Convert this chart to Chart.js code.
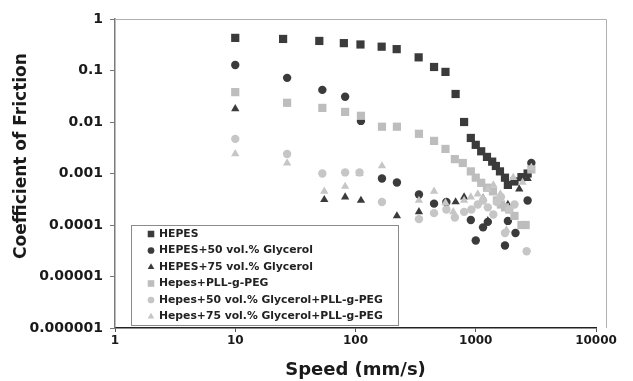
<!DOCTYPE html>
<html>
<head>
<meta charset="utf-8">
<script src="https://cdn.jsdelivr.net/npm/chart.js@4/dist/chart.umd.min.js"></script>
<style>
  body { margin: 0; background: #fff; }
  #wrap { width: 633px; height: 381px; }
</style>
</head>
<body>
<div id="wrap"><canvas id="friction"></canvas></div>
<script>
// tick values and labels
var xTicks = [1, 10, 100, 1000, 10000];
var xLabels = ['1', '10', '100', '1000', '10000'];
var yTicks = [1, 0.1, 0.01, 0.001, 0.0001, 0.00001, 0.000001];
var yLabels = ['1', '0.1', '0.01', '0.001', '0.0001', '0.00001', '0.000001'];

var seriesNames = ['HEPES', 'HEPES+50 vol.% Glycerol', 'HEPES+75 vol.% Glycerol',
  'Hepes+PLL-g-PEG', 'Hepes+50 vol.% Glycerol+PLL-g-PEG', 'Hepes+75 vol.% Glycerol+PLL-g-PEG'];

// speed (mm/s) / coefficient of friction
var hepesX = [10, 25, 50, 80, 110, 165, 220, 335, 450, 560, 680, 800, 910, 1000, 1110, 1240, 1370, 1470, 1590, 1750, 1850, 2100, 2400, 2700];
var hepesY = [0.43, 0.41, 0.375, 0.34, 0.32, 0.29, 0.26, 0.18, 0.117, 0.094, 0.035, 0.010, 0.0049, 0.0036, 0.0027, 0.0021, 0.0017, 0.0014, 0.0011, 0.00083, 0.0006, 0.0007, 0.00085, 0.001];

var gly50X = [10, 27, 53, 82, 111, 166, 221, 337, 450, 570, 910, 1000, 1150, 1260, 1750, 1850, 2140, 2700, 2900];
var gly50Y = [0.128, 0.072, 0.042, 0.031, 0.0105, 0.0008, 0.00067, 0.00039, 0.00026, 0.00028, 0.000125, 0.00005, 0.00009, 0.000115, 0.00004, 0.00012, 0.00007, 0.0003, 0.0016];

var gly75X = [10, 55, 82, 111, 221, 337, 680, 800, 1150, 1260, 1850, 2300, 2700];
var gly75Y = [0.018, 0.00031, 0.00035, 0.0003, 0.00015, 0.00018, 0.00028, 0.00035, 0.00033, 0.00012, 0.00025, 0.0005, 0.0008];

var pllX = [10, 27, 53, 82, 111, 166, 221, 337, 450, 560, 670, 780, 910, 1000, 1110, 1240, 1390, 1500, 1620, 1750, 1900, 2100, 2400, 2600, 2900];
var pllY = [0.038, 0.0236, 0.0188, 0.0157, 0.0132, 0.0081, 0.0081, 0.0059, 0.0043, 0.003, 0.0019, 0.0016, 0.0011, 0.00083, 0.00066, 0.00053, 0.00045, 0.0003, 0.00025, 0.00022, 0.0002, 0.00015, 0.0001, 0.0001, 0.0012];

var gly50pllX = [10, 27, 53, 82, 108, 166, 337, 450, 570, 670, 800, 920, 1040, 1150, 1260, 1400, 1500, 1620, 1750, 1900, 2100, 2650];
var gly50pllY = [0.0047, 0.0024, 0.001, 0.00105, 0.00105, 0.00028, 0.00013, 0.00017, 0.0002, 0.00014, 0.00018, 0.0002, 0.00025, 0.0003, 0.00022, 0.00016, 0.00028, 0.00035, 0.00007, 0.0002, 0.00025, 0.000031];

var gly75pllX = [10, 27, 55, 82, 108, 166, 337, 450, 560, 650, 800, 910, 1040, 1150, 1260, 1400, 1600, 1800, 2050, 2450, 2900];
var gly75pllY = [0.0024, 0.0016, 0.00045, 0.00056, 0.001, 0.0014, 0.0003, 0.00045, 0.00027, 0.00018, 0.0003, 0.00035, 0.0004, 0.00033, 0.0005, 0.0006, 0.0004, 0.00008, 0.00083, 0.00067, 0.0013];

var DARK = '#3b3b3b', LIGHT = '#bdbdbd', LIGHT2 = '#c6c6c6';
var FONT = "'DejaVu Sans', Verdana, sans-serif";
var yTitle = 'Coefficient of Friction';

function pts(xs, ys) {
  return xs.map(function(x, i) { return { x: x, y: ys[i] }; });
}

function series(i, xs, ys, shape, color, r) {
  return {
    label: seriesNames[i],
    data: pts(xs, ys),
    pointStyle: shape,
    pointRadius: r,
    pointBackgroundColor: color,
    pointBorderColor: color,
    pointBorderWidth: 0,
    showLine: false,
    order: 6 - i   // later series drawn on top, like the original
  };
}

var datasets = [
  series(0, hepesX, hepesY, 'rect', DARK, 5.8),
  series(1, gly50X, gly50Y, 'circle', DARK, 4.2),
  series(2, gly75X, gly75Y, 'triangle', DARK, 4.8),
  series(3, pllX, pllY, 'rect', LIGHT, 5.8),
  series(4, gly50pllX, gly50pllY, 'circle', LIGHT2, 4.2),
  series(5, gly75pllX, gly75pllY, 'triangle', LIGHT2, 4.8)
];

function marker(ctx, shape, color, x, y, r) {
  ctx.fillStyle = color;
  ctx.beginPath();
  if (shape == 'rect') {
    var s = r * Math.SQRT1_2;
    ctx.rect(x - s, y - s, 2 * s, 2 * s);
  } else if (shape == 'circle') {
    ctx.arc(x, y, r, 0, Math.PI * 2);
  } else {
    ctx.moveTo(x, y - r);
    ctx.lineTo(x + r * 0.866, y + r * 0.5);
    ctx.lineTo(x - r * 0.866, y + r * 0.5);
  }
  ctx.closePath();
  ctx.fill();
}

// frame, y title and legend box inside the plot
var decor = {
  id: 'decor',
  beforeDatasetsDraw: function(chart) {
    var a = chart.chartArea, ctx = chart.ctx;
    ctx.save();
    ctx.strokeStyle = '#b0b0b0';
    ctx.lineWidth = 1;
    ctx.beginPath();
    ctx.moveTo(a.left, a.top + 0.5);
    ctx.lineTo(a.right + 10.5, a.top + 0.5);
    ctx.lineTo(a.right + 10.5, a.bottom);
    ctx.stroke();
    ctx.restore();
  },
  afterDraw: function(chart) {
    var a = chart.chartArea, ctx = chart.ctx;
    ctx.save();
    ctx.translate(22, a.top + 137);
    ctx.rotate(-Math.PI / 2);
    ctx.font = 'bold 17px ' + FONT;
    ctx.fillStyle = '#1a1a1a';
    ctx.textAlign = 'center';
    ctx.textBaseline = 'middle';
    ctx.fillText(yTitle, 0, 0);
    ctx.restore();

    var bx = a.left + 16, by = a.bottom - 103, bw = 267, bh = 100;
    ctx.save();
    ctx.fillStyle = '#fff';
    ctx.fillRect(bx, by, bw, bh);
    ctx.strokeStyle = '#8a8a8a';
    ctx.lineWidth = 1;
    ctx.strokeRect(bx + 0.5, by + 0.5, bw, bh);
    ctx.font = 'bold 10.8px ' + FONT;
    ctx.textBaseline = 'middle';
    chart.data.datasets.forEach(function(ds, i) {
      var yy = by + 9 + i * 16.5;
      marker(ctx, ds.pointStyle, ds.pointBackgroundColor, bx + 20, yy, ds.pointRadius * 0.8);
      ctx.fillStyle = '#222';
      ctx.fillText(ds.label, bx + 28, yy);
    });
    ctx.restore();
  }
};

new Chart(document.getElementById('friction'), {
  type: 'scatter',
  data: { datasets: datasets },
  plugins: [decor],
  options: {
    responsive: true,
    maintainAspectRatio: false,
    animation: false,
    layout: { padding: { top: 19, right: 37, left: 0, bottom: 0 } },
    plugins: { legend: { display: false }, tooltip: { enabled: false } },
    scales: {
      x: {
        type: 'logarithmic',
        min: 1,
        max: 10000,
        afterBuildTicks: function(s) { s.ticks = xTicks.map(function(v) { return { value: v }; }); },
        afterFit: function(s) { s.height = 53; },
        ticks: {
          autoSkip: false,
          maxRotation: 0,
          padding: 2,
          color: '#1a1a1a',
          font: { family: FONT, size: 12, weight: 'bold' },
          callback: function(v) { var k = xTicks.indexOf(v); return k < 0 ? '' : xLabels[k]; }
        },
        grid: { drawOnChartArea: false, drawTicks: true, tickLength: 4, color: '#555' },
        border: { color: '#222', width: 1.5 },
        title: {
          display: true,
          text: 'Speed (mm/s)',
          color: '#1a1a1a',
          font: { family: FONT, size: 18, weight: 'bold' },
          padding: { top: 2, bottom: 0 }
        }
      },
      y: {
        type: 'logarithmic',
        min: 0.000001,
        max: 1,
        afterBuildTicks: function(s) { s.ticks = yTicks.map(function(v) { return { value: v }; }); },
        afterFit: function(s) { s.width = 115; },
        ticks: {
          autoSkip: false,
          padding: 7,
          color: '#1a1a1a',
          font: { family: FONT, size: 14, weight: 'bold' },
          callback: function(v) {
            for (var k = 0; k < yTicks.length; k++) {
              if (Math.abs(Math.log10(v) - Math.log10(yTicks[k])) < 1e-6) return yLabels[k];
            }
            return '';
          }
        },
        grid: { drawOnChartArea: false, drawTicks: true, tickLength: 5, color: '#777' },
        border: { color: '#7a7a7a', width: 1.5 }
      }
    }
  }
});
</script>
</body>
</html>
